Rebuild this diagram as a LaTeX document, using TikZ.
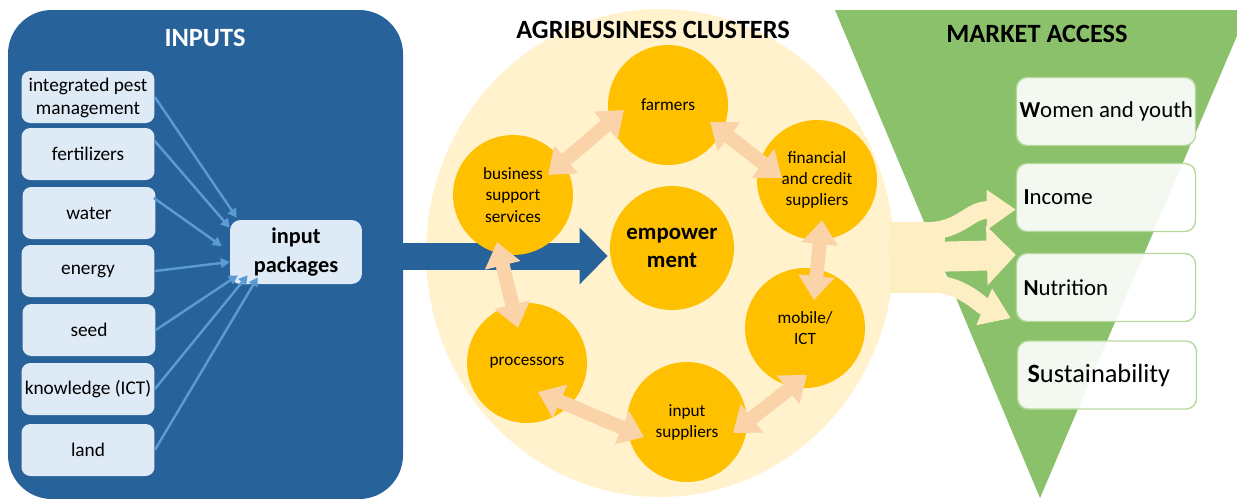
\documentclass[tikz,border=0pt]{standalone}
\usepackage{fontspec}
\setmainfont{Carlito}
\usetikzlibrary{arrows.meta,calc}
\definecolor{inblue}{HTML}{27629A}
\definecolor{boxblue}{HTML}{DEEAF6}
\definecolor{arrblue}{HTML}{5B9BD5}
\definecolor{clbg}{HTML}{FFF2CC}
\definecolor{clorange}{HTML}{FFC000}
\definecolor{peach}{HTML}{FAD3A8}
\definecolor{mkgreen}{HTML}{8CC16B}
\definecolor{mkborder}{HTML}{B5D99C}
\definecolor{mkarrow}{HTML}{FDEEC4}
\pgfdeclarelayer{back}
\pgfdeclarelayer{mid}
\pgfsetlayers{back,mid,main}
\begin{document}
\begin{tikzpicture}[x=0.02cm,y=-0.02cm,
  inbox/.style={rectangle, rounded corners=5pt, fill=boxblue, minimum width=2.66cm, minimum height=1.04cm, align=center, inner sep=1pt, font=\fontsize{11}{13}\selectfont},
  pkbox/.style={rectangle, rounded corners=6pt, fill=boxblue, minimum width=2.64cm, minimum height=1.28cm, align=center, inner sep=1pt, font=\bfseries\fontsize{12.7}{16}\selectfont},
  inarr/.style={draw=arrblue, line width=1.4pt, -{Triangle[length=5pt,width=5.5pt]}},
  titletext/.style={font=\bfseries\fontsize{15}{18}\selectfont, inner sep=0pt},
  orb/.style={circle, fill=clorange, minimum size=2.4cm, inner sep=0pt, align=center, font=\fontsize{9.8}{12}\selectfont},
  dbl/.style={color=peach, line width=0.28cm, {Triangle[length=0.48cm,width=0.7cm]}-{Triangle[length=0.48cm,width=0.7cm]}},
  mbox/.style={rectangle, rounded corners=6pt, draw=mkborder, line width=0.8pt, fill=white, fill opacity=0.9, text opacity=1, minimum width=3.58cm, minimum height=1.36cm, inner xsep=0.06cm, font=\fontsize{13}{15}\selectfont},
  mka/.style={color=mkarrow}
]
\useasboundingbox (0,0) rectangle (1237,498);

% background panels
\begin{pgfonlayer}{back}
\fill[inblue, rounded corners=25pt] (8,10) rectangle (403,499);
\fill[clbg] (660,253) ellipse [x radius=4.68cm, y radius=4.88cm];
\fill[mkgreen] (835,10) -- (1248,10) -- (1040,498) -- cycle;
\end{pgfonlayer}

% titles
\node[titletext, text=white] (tin) at (205,38) {INPUTS};
\node[titletext] (tag) at (653,30) {AGRIBUSINESS CLUSTERS};
\node[titletext] (tma) at (1037,34) {MARKET ACCESS};

% inputs
\node[inbox] (ipm) at (88,97) {\rule{0pt}{9pt}integrated pest\\management};
\node[inbox] (fert) at (88,154) {fertilizers};
\node[inbox] (water) at (89,213) {water};
\node[inbox] (energy) at (88,271) {energy};
\node[inbox] (seed) at (89,330) {seed};
\node[inbox] (know) at (88,389) {knowledge (ICT)};
\node[inbox] (land) at (88,450) {land};
\node[pkbox] (pk) at (296,252) {input\\packages};

\draw[inarr] (ipm.east) -- ([shift={(7,-2)}]pk.north west);
\draw[inarr] ([shift={(0,-13)}]fert.east) -- ([shift={(0,8)}]pk.north west);
\draw[inarr] ([shift={(-2,-15)}]water.east) -- ([shift={(-8,-6)}]pk.west);
\draw[inarr] (energy.east) -- ([shift={(0,10)}]pk.west);
\draw[inarr] (seed.east) -- ([shift={(8,-9)}]pk.south west);
\draw[inarr] (know.east) -- ([shift={(18,-9)}]pk.south west);
\draw[inarr] (land.east) -- ([shift={(28,-7)}]pk.south west);

% cluster circles
\node[orb] (farm) at (668,105) {farmers};
\node[orb] (fin) at (817,180) {financial\\and credit\\suppliers};
\node[orb] (bss) at (513,195) {business\\support\\services};
\node[orb, minimum size=2.48cm, font=\bfseries\fontsize{13}{15.5}\selectfont] (emp) at (672,248) {empower\\ment};
\node[orb] (mob) at (805,328) {mobile/\\ICT};
\node[orb] (proc) at (527,363) {processors};
\node[orb] (inp) at (687,422) {input\\suppliers};

% big blue arrow
\begin{pgfonlayer}{mid}
\draw[inblue, line width=0.54cm, -{Triangle[length=0.56cm,width=1.1cm]}] ([shift={(0,4)}]pk.east) -- ([shift={(-2,8)}]emp.west);
\end{pgfonlayer}

% double arrows
\draw[dbl] ([shift={(35,-20)}]bss.center) -- ([shift={(-44,5)}]farm.center);
\draw[dbl] ([shift={(42,17)}]farm.center) -- ([shift={(-35,-2)}]fin.center);
\draw[dbl] ([shift={(5,40)}]fin.center) -- ([shift={(9,-28)}]mob.center);
\draw[dbl] ([shift={(2,47)}]mob.center) -- ([shift={(46,11)}]inp.center);
\draw[dbl] ([shift={(-43,15)}]inp.center) -- ([shift={(11,29)}]proc.center);
\draw[dbl] ([shift={(-9,-35)}]proc.center) -- ([shift={(-16,47)}]bss.center);

% market boxes
\node[mbox] (wy) at (1106,111.5) {\makebox[3.46cm][l]{\textbf{W}omen and youth}};
\node[mbox] (inc) at (1106,197.5) {\makebox[3.46cm][l]{\hspace*{0.08cm}\textbf{I}ncome}};
\node[mbox] (nut) at (1106,287.5) {\makebox[3.46cm][l]{\hspace*{0.08cm}\textbf{N}utrition}};
\node[mbox, font=\fontsize{15}{17}\selectfont] (sus) at (1107,375) {\makebox[3.46cm][l]{\hspace*{0.14cm}\textbf{S}ustainability}};

% market arrows
\coordinate (mk) at (889,258);
\begin{pgfonlayer}{mid}
\fill[mkarrow] (889,222) rectangle (945,293);
\draw[mka, line width=0.35cm, -{Triangle[length=0.58cm,width=0.76cm]}] (925,231) .. controls (962,231) and (968,210) .. ([shift={(0,12)}]inc.west);
\draw[mka, line width=0.6cm, -{Triangle[length=0.58cm,width=1.16cm]}] (mk) -- ([shift={(0,2)}]nut.north west);
\draw[mka, line width=0.35cm, -{Triangle[length=0.58cm,width=0.76cm]}] (925,283) .. controls (962,283) and (980,305) .. ([shift={(-5,-4)}]nut.south west);
\end{pgfonlayer}
\end{tikzpicture}
\end{document}
